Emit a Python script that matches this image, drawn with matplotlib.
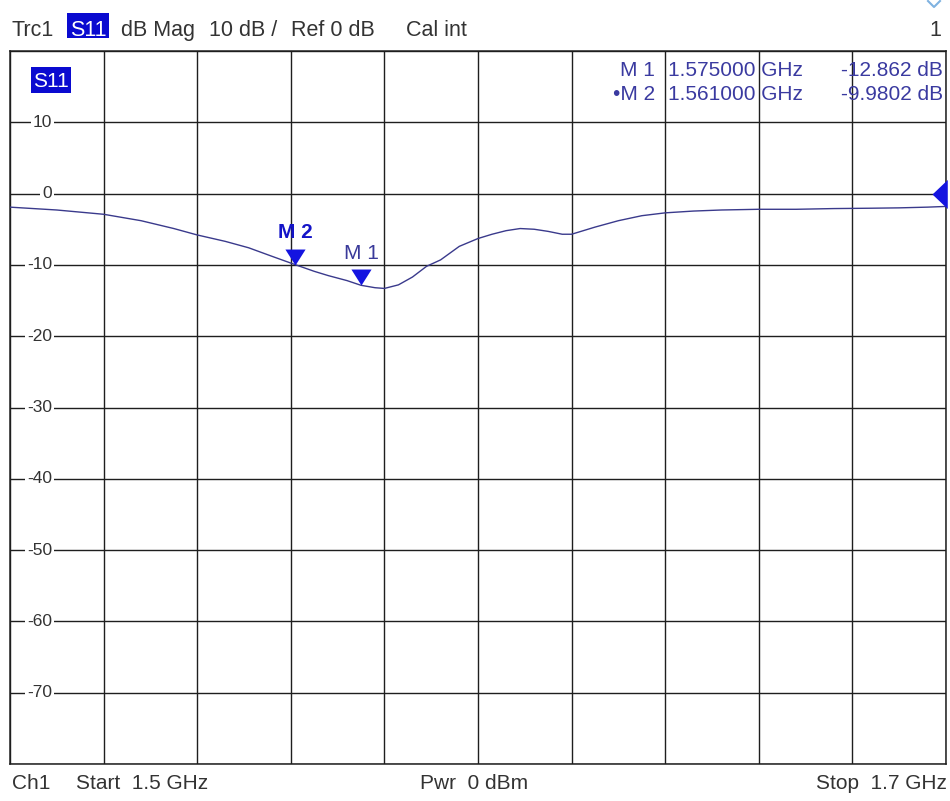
import numpy as np
import matplotlib
matplotlib.use('Agg')
import matplotlib.pyplot as plt
from matplotlib.patches import Rectangle
from matplotlib.lines import Line2D

plt.rcParams['font.family'] = ['Liberation Sans', 'DejaVu Sans']

## trace, GHz / dB
freq_ghz = [1.500, 1.510, 1.520, 1.528, 1.535, 1.540, 1.546, 1.551, 1.556, 1.561,
            1.565, 1.568, 1.572, 1.575, 1.578, 1.580, 1.583, 1.586, 1.589, 1.592,
            1.596, 1.600, 1.603, 1.606, 1.609, 1.612, 1.615, 1.618, 1.620, 1.625,
            1.630, 1.635, 1.640, 1.646, 1.652, 1.660, 1.668, 1.676, 1.684, 1.690,
            1.696, 1.700]
s11_db = [-1.9, -2.3, -2.9, -3.8, -4.9, -5.8, -6.7, -7.6, -8.8, -9.98,
          -10.9, -11.5, -12.2, -12.86, -13.2, -13.3, -12.8, -11.7, -10.2, -9.3,
          -7.4, -6.3, -5.7, -5.2, -4.9, -5.0, -5.3, -5.7, -5.7, -4.7,
          -3.8, -3.1, -2.7, -2.45, -2.3, -2.2, -2.2, -2.1, -2.05, -2.0,
          -1.9, -1.8]

marker_names = ['M 1', 'M 2']
marker_freq = [1.575, 1.561]
marker_db = [-12.862, -9.9802]
marker_freq_text = ['1.575000 GHz', '1.561000 GHz']
marker_db_text = ['-12.862 dB', '-9.9802 dB']

y_ticks = [20, 10, 0, -10, -20, -30, -40, -50, -60, -70, -80]
y_labels = ['10', '0', '-10', '-20', '-30', '-40', '-50', '-60', '-70']
start_ghz, stop_ghz = 1.5, 1.7

W, H = 950, 801
fig = plt.figure(figsize=(W / 100, H / 100), dpi=100)
fig.patch.set_facecolor('white')

def fx(x):
    return x / W

def fy(y):
    return 1 - y / H

ax = fig.add_axes([fx(10), fy(764), fx(946) - fx(10), fy(51) - fy(764)])
ax.set_xlim(start_ghz, stop_ghz)
ax.set_ylim(-80, 20)
ax.set_xticks(np.linspace(start_ghz, stop_ghz, 11))
ax.set_yticks(y_ticks)
ax.tick_params(length=0, labelbottom=False, labelleft=False)
ax.grid(True, color='#1e1e1e', linewidth=1.0)
for s in ax.spines.values():
    s.set_color('#1e1e1e')
    s.set_linewidth(1.1)

# y labels sit on the grid lines
for lab in y_labels:
    ax.text(0.045, float(lab), lab, transform=ax.get_yaxis_transform(),
            ha='right', va='center', fontsize=12.5, color='#333333', zorder=3,
            bbox=dict(facecolor='white', edgecolor='none', pad=1.5))

ax.plot(freq_ghz, s11_db, color='#3a3a8c', linewidth=1.0, zorder=4)

tri_down = [(0, 0), (-0.6, 0.95), (0.6, 0.95)]
for name, f, v in zip(marker_names, marker_freq, marker_db):
    ax.plot([f], [v], marker=tri_down, markersize=23, color='#1414e0',
            markeredgewidth=0, linestyle='none', zorder=5)
    ax.annotate(name, (f, v), xytext=(0, 23), textcoords='offset points',
                ha='center', va='center', fontsize=15, zorder=6,
                color='#1414c8' if name == 'M 2' else '#3a3a9a',
                fontweight='bold' if name == 'M 2' else 'normal')

# reference level arrow at the right edge
tri_left = [(0, 0), (1, -0.95), (1, 0.95)]
ax.plot([(932 - 10) / 936], [0], marker=tri_left, markersize=22, color='#1414e0',
        markeredgewidth=0, transform=ax.get_yaxis_transform(), clip_on=False, zorder=5)

# marker table
row_y = [76, 100]
for i in range(2):
    name = ('\u2022' if i == 1 else '') + marker_names[i]
    fig.text(fx(655), fy(row_y[i]), name, ha='right', va='baseline', fontsize=15, color='#3a3aa0')
    fig.text(fx(668), fy(row_y[i]), marker_freq_text[i], ha='left', va='baseline', fontsize=15, color='#3a3aa0')
    fig.text(fx(943), fy(row_y[i]), marker_db_text[i], ha='right', va='baseline', fontsize=15, color='#3a3aa0')

# S11 tag inside the diagram
fig.patches.append(Rectangle((fx(31), fy(93)), fx(71) - fx(31), fy(67) - fy(93),
                             transform=fig.transFigure, facecolor='#0a0ad0', edgecolor='none'))
fig.text(fx(51), fy(87), 'S11', ha='center', va='baseline', fontsize=15, color='white')

# header line
hdr_y = 36
fig.patches.append(Rectangle((fx(67), fy(38)), fx(109) - fx(67), fy(13) - fy(38),
                             transform=fig.transFigure, facecolor='#0a0ad0', edgecolor='none'))
fig.text(fx(12), fy(hdr_y), 'Trc1', fontsize=15.5, color='#333333', va='baseline')
fig.text(fx(88), fy(hdr_y), 'S11', fontsize=15.5, color='white', va='baseline', ha='center')
fig.text(fx(121), fy(hdr_y), 'dB Mag', fontsize=15.5, color='#333333', va='baseline')
fig.text(fx(209), fy(hdr_y), '10 dB /', fontsize=15.5, color='#333333', va='baseline')
fig.text(fx(291), fy(hdr_y), 'Ref 0 dB', fontsize=15.5, color='#333333', va='baseline')
fig.text(fx(406), fy(hdr_y), 'Cal int', fontsize=15.5, color='#333333', va='baseline')
fig.text(fx(941), fy(hdr_y), '1', fontsize=15.5, color='#333333', va='baseline', ha='right')
fig.lines.append(Line2D([fx(928), fx(934), fx(940)], [fy(1), fy(7), fy(1)],
                        transform=fig.transFigure, color='#7fb2e0', linewidth=1.5))

# footer line
ftr_y = 789
fig.text(fx(12), fy(ftr_y), 'Ch1', fontsize=15, color='#333333', va='baseline')
fig.text(fx(76), fy(ftr_y), 'Start  1.5 GHz', fontsize=15, color='#333333', va='baseline')
fig.text(fx(474), fy(ftr_y), 'Pwr  0 dBm', fontsize=15, color='#333333', va='baseline', ha='center')
fig.text(fx(947), fy(ftr_y), 'Stop  1.7 GHz', fontsize=15, color='#333333', va='baseline', ha='right')

fig.savefig('out.png', dpi=100, facecolor='white')
